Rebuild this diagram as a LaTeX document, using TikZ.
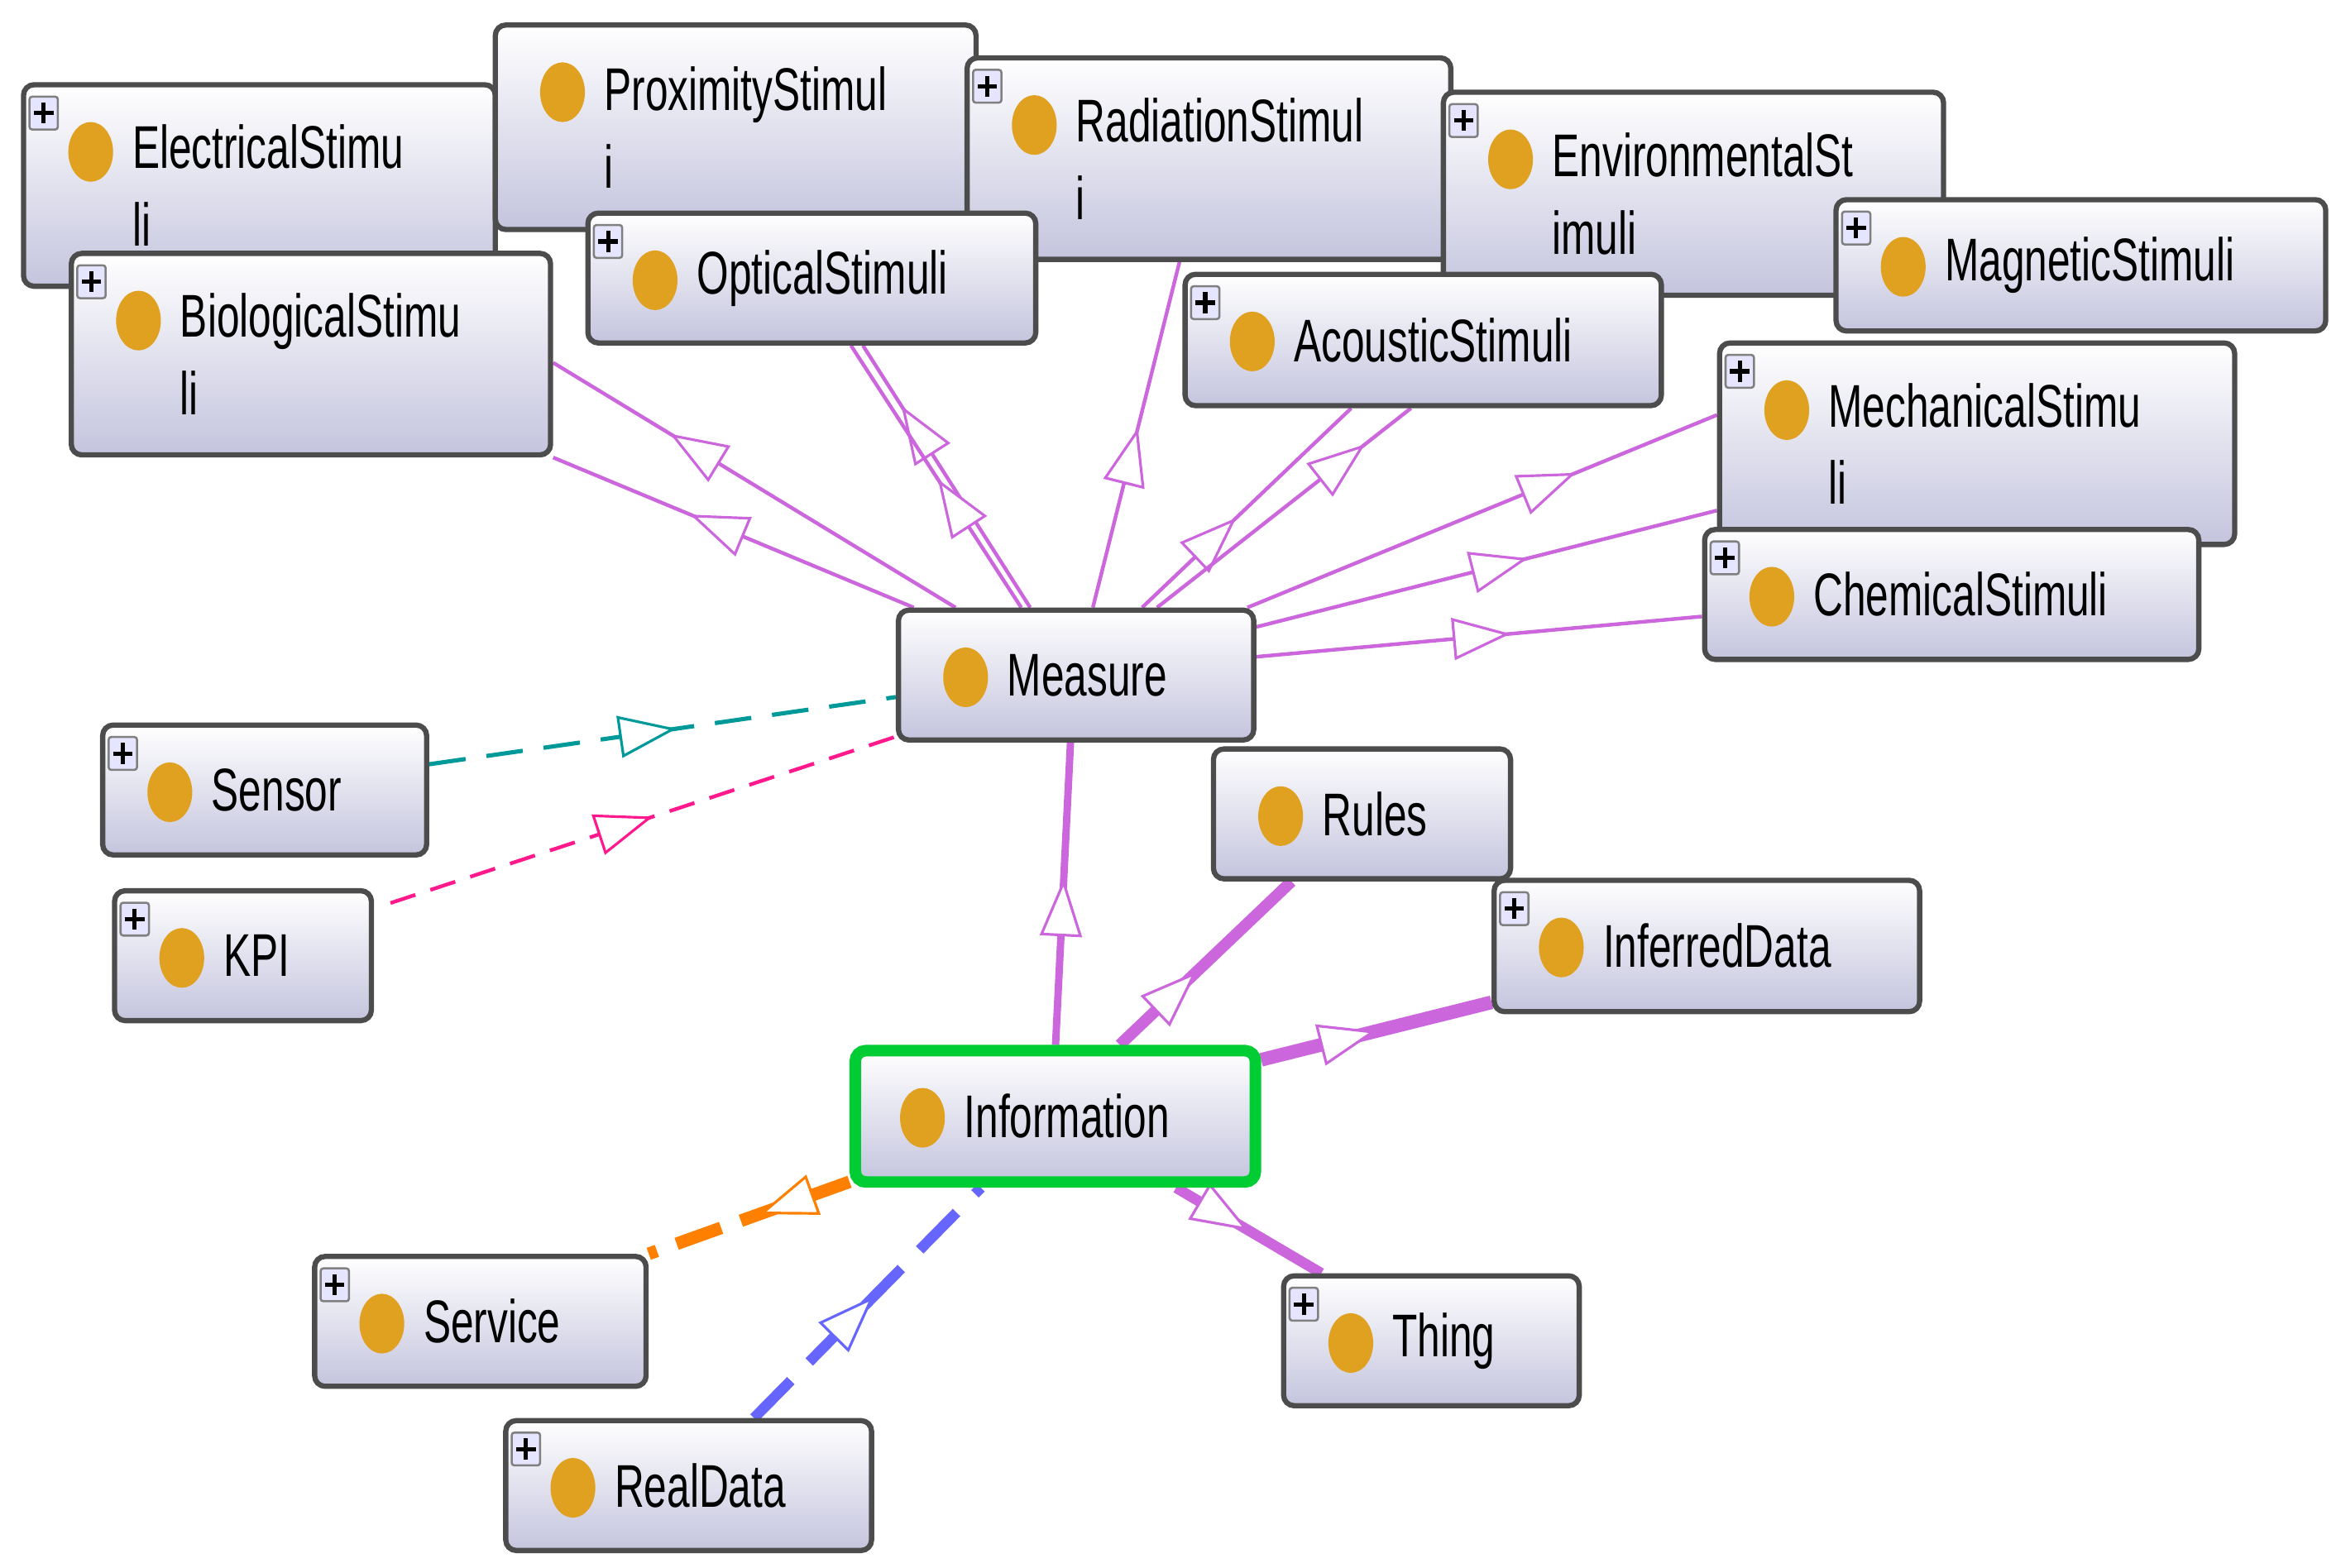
\documentclass[tikz,border=0pt]{standalone}
\usepackage{fontspec}
\setmainfont{Liberation Sans}[FakeStretch=0.68]
\usepackage{tikz}
\usetikzlibrary{arrows.meta,decorations.markings,backgrounds,calc}
\definecolor{dotc}{HTML}{E0A020}
\definecolor{boxlo}{HTML}{C4C4DE}
\definecolor{isac}{HTML}{CC66DD}
\definecolor{greenb}{HTML}{00CC33}

\newcommand\clsdot{\fill[dotc] ([xshift=0.45cm,yshift=-0.45cm]path picture bounding box.north west) ellipse (0.15 and 0.2);}
\newcommand\clsplus{%
  \draw[black!50,fill=blue!10,line width=0.4pt,rounded corners=0.5pt]
    ([xshift=0.04cm,yshift=-0.08cm]path picture bounding box.north west) rectangle ++(0.19,0.22);
  \draw[black,line width=0.8pt]
    ([xshift=0.135cm,yshift=-0.12cm]path picture bounding box.north west) -- ++(0,0.14)
    ([xshift=0.07cm,yshift=-0.19cm]path picture bounding box.north west) -- ++(0.13,0);}

\tikzset{
  cls/.style 2 args={anchor=north west, minimum width=#1cm, minimum height=#2cm, text width=#1cm,
    inner sep=0pt, align=left, rounded corners=2pt, draw=black!70, line width=1pt,
    top color=white, bottom color=boxlo, font=\fontsize{11.5}{14.8}\selectfont,
    execute at begin node={\leftskip=0.73cm},
    path picture={\clsdot}},
  pl/.style={path picture={\clsdot\clsplus}},
  isa/.style={postaction={decorate}, decoration={markings, mark=at position #1 with
    {\arrow{Triangle[open, fill=white, line width=0.5pt, length=11pt, width=8pt]}}}},
  sub/.style={isac, line width=0.7pt},
}

\begin{document}
\begin{tikzpicture}[y=-1cm]
  \useasboundingbox (0,0) rectangle (15.68,10.5);

  % stimuli
  \node[cls={3.16}{1.35},pl] (elec) at (0.14,0.55) {ElectricalStimu\\li};
  \node[cls={3.22}{1.37}] (prox) at (3.30,0.15) {ProximityStimul\\i};
  \node[cls={3.24}{1.35},pl] (rad) at (6.46,0.37) {RadiationStimul\\i};
  \node[cls={3.35}{1.36},pl] (env) at (9.65,0.60) {EnvironmentalSt\\imuli};
  \node[cls={3.28}{0.88},pl] (magn) at (12.28,1.32) {MagneticStimuli};
  \node[cls={3.21}{1.35},pl] (bio) at (0.46,1.68) {BiologicalStimu\\li};
  \node[cls={3.00}{0.87},pl] (opt) at (3.92,1.41) {OpticalStimuli};
  \node[cls={3.19}{0.88},pl] (acou) at (7.92,1.82) {AcousticStimuli};
  \node[cls={3.45}{1.35},pl] (mech) at (11.50,2.28) {MechanicalStimu\\li};
  \node[cls={3.31}{0.87},pl] (chem) at (11.40,3.53) {ChemicalStimuli};

  % core
  \node[cls={2.38}{0.87}] (meas) at (6.00,4.07) {Measure};
  \node[cls={2.17}{0.87},pl] (sens) at (0.67,4.84) {Sensor};
  \node[cls={1.72}{0.87},pl] (kpi) at (0.75,5.95) {KPI};
  \node[cls={1.99}{0.87}] (rules) at (8.11,5.00) {Rules};
  \node[cls={2.85}{0.88},pl] (infer) at (9.99,5.88) {InferredData};
  \node[cls={2.68}{0.88}, draw=greenb, line width=2.2pt] (info) at (5.69,7.00) {Information};
  \node[cls={2.22}{0.87},pl] (serv) at (2.09,8.40) {Service};
  \node[cls={1.98}{0.87},pl] (thing) at (8.58,8.53) {Thing};
  \node[cls={2.45}{0.87},pl] (real) at (3.37,9.50) {RealData};

  \begin{scope}[on background layer]
    \draw[sub,isa=0.71] ([xshift=0.40cm]meas.north west) -- ([yshift=-0.75cm]bio.north east);
    \draw[sub,isa=0.62] ([xshift=0.12cm]meas.north west) -- (bio.south east);
    \draw[sub,isa=0.77] ([xshift=0.90cm]meas.north west) -- ([xshift=1.86cm]opt.south west);
    \draw[sub,isa=0.49] ([xshift=0.84cm]meas.north west) -- ([xshift=1.78cm]opt.south west);
    \draw[sub,isa=0.52] ([xshift=1.32cm]meas.north west) -- ([xshift=1.44cm]rad.south west);
    \draw[sub,isa=0.45] ([xshift=1.65cm]meas.north west) -- ([xshift=1.13cm]acou.south west);
    \draw[sub,isa=0.82] ([xshift=1.75cm]meas.north west) -- ([xshift=1.53cm]acou.south west);
    \draw[sub,isa=0.70] ([xshift=-0.06cm]meas.north east) -- ([yshift=-0.50cm]mech.north west);
    \draw[sub,isa=0.59] ([yshift=-0.13cm]meas.north east) -- ([yshift=-1.14cm]mech.north west);
    \draw[sub,isa=0.57] ([yshift=-0.33cm]meas.north east) -- ([yshift=-0.60cm]chem.north west);

    \draw[teal!80!cyan, dash pattern=on 7pt off 4pt, line width=0.8pt,isa=0.53]
      ([yshift=-0.28cm]sens.north east) -- ([yshift=-0.60cm]meas.north west);
    \draw[red!50!magenta!90, dash pattern=on 5pt off 3pt, line width=0.7pt,isa=0.52]
      ([xshift=0.11cm,yshift=-0.10cm]kpi.north east) -- ([yshift=0.04cm]meas.south west);

    \draw[isac, line width=1.4pt,isa=0.55] ([xshift=1.38cm]info.north west) -- ([xshift=1.17cm]meas.south west);
    \draw[isac, line width=2.2pt,isa=0.45] ([xshift=1.81cm]info.north west) -- ([xshift=0.54cm]rules.south west);
    \draw[isac, line width=2.6pt,isa=0.5] ([yshift=-0.10cm]info.north east) -- ([yshift=0.08cm]infer.south west);
    \draw[isac, line width=2pt,isa=0.5] ([xshift=-0.57cm]info.south east) -- ([xshift=0.27cm]thing.north west);
    \draw[orange, dash pattern=on 9pt off 4pt, line width=2.4pt,isa=0.45] ([yshift=0.04cm]info.south west) -- (serv.north east);
    \draw[blue!60, dash pattern=on 10pt off 5pt, line width=2pt,isa=0.53] ([xshift=1.68cm]real.north west) -- ([xshift=0.88cm]info.south west);
  \end{scope}
\end{tikzpicture}
\end{document}
